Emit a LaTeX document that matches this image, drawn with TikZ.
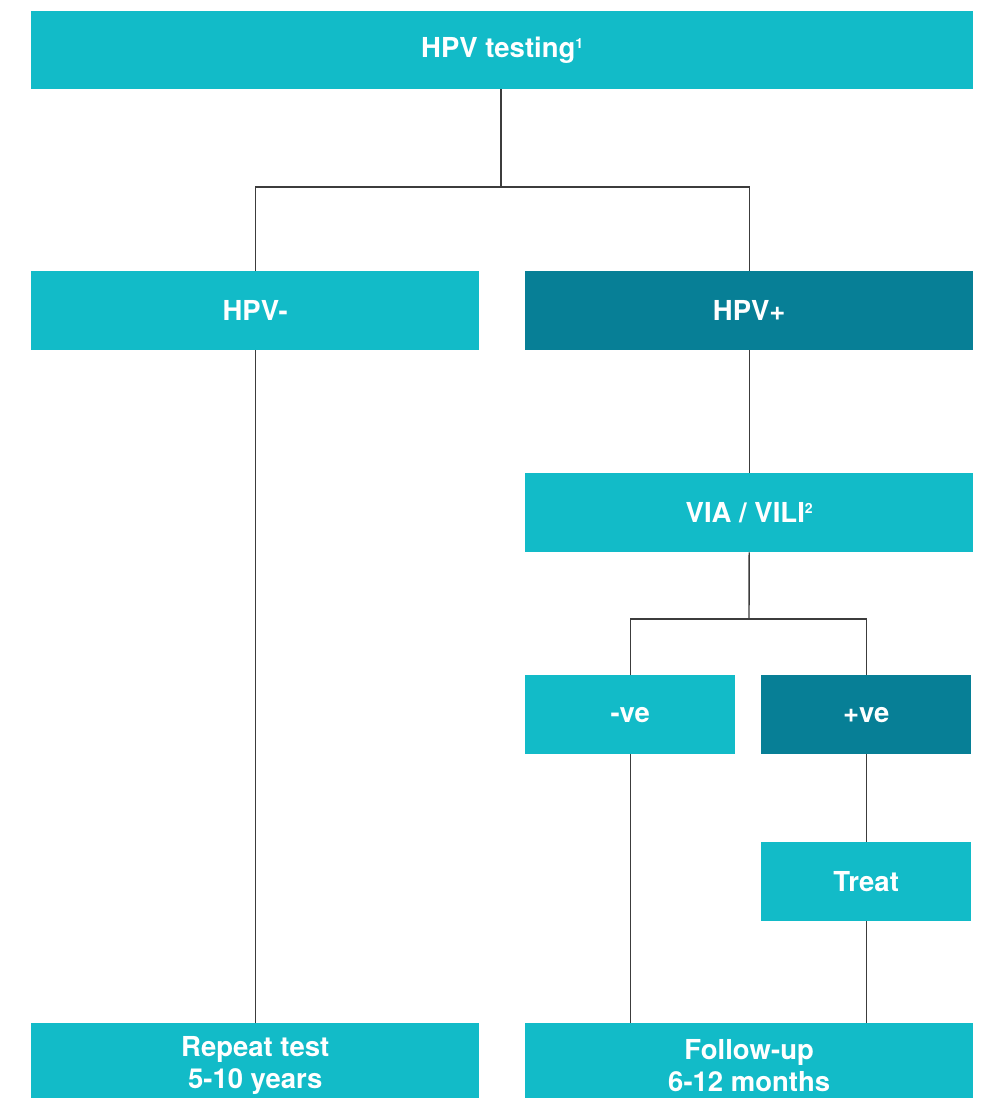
\documentclass[tikz,border=0pt]{standalone}
\usepackage{fontspec}
\setmainfont{TeX Gyre Heros}
\definecolor{lightteal}{HTML}{12BBC8}
\definecolor{darkteal}{HTML}{077F96}
\definecolor{linegray}{HTML}{3C3C3C}
\newcommand{\supnum}[1]{\raisebox{0.62ex}{\fontsize{14}{14}\selectfont #1}}
\newcommand{\lowtxt}[1]{\raisebox{-3pt}{#1}}
\begin{document}
\begin{tikzpicture}[x=1pt,y=-1pt,
  box/.style={fill=lightteal, text=white, font=\fontsize{27.5}{32}\selectfont\bfseries, align=center, inner sep=0pt, anchor=north west},
  darkbox/.style={box, fill=darkteal},
  conn/.style={draw=linegray, line width=1.4pt}]
\useasboundingbox (0,0) rectangle (987,1098);
\begin{scope}
\clip (0,0) rectangle (987,1098);
\node[box, minimum width=942pt, minimum height=78pt] (top) at (31,11) {\lowtxt{HPV testing\supnum{1}}};
\node[box, minimum width=448pt, minimum height=79pt] (neg) at (31,271) {\lowtxt{HPV-}};
\node[darkbox, minimum width=448pt, minimum height=79pt] (pos) at (525,271) {\lowtxt{HPV+}};
\node[box, minimum width=448pt, minimum height=79pt] (via) at (525,473) {\lowtxt{VIA / VILI\supnum{2}}};
\node[box, minimum width=210pt, minimum height=79pt] (mve) at (525,675) {\lowtxt{-ve}};
\node[darkbox, minimum width=210pt, minimum height=79pt] (pve) at (761,675) {\lowtxt{+ve}};
\node[box, minimum width=210pt, minimum height=79pt] (treat) at (761,842) {\lowtxt{Treat}};
\node[box, minimum width=448pt, minimum height=84pt] (repeat) at (31,1023) {Repeat test\\5-10 years};
\node[box, minimum width=448pt, minimum height=84pt] (follow) at (525,1023) {Follow-up\\6-12 months};
\end{scope}
\coordinate (j1) at (501,187);
\coordinate (j2) at (749,619);
\draw[conn] (top.south -| j1) -- (j1);
\draw[conn] (neg.north) |- (j1) -| (pos.north);
\draw[conn] (neg.south) -- (repeat.north);
\draw[conn] (pos.south) -- (via.north);
\draw[conn] (via.south) -- (j2);
\draw[conn] (mve.north) |- (j2) -| (pve.north);
\draw[conn] (mve.south) -- (mve.south |- follow.north);
\draw[conn] (pve.south) -- (treat.north);
\draw[conn] (treat.south) -- (treat.south |- follow.north);
\end{tikzpicture}
\end{document}
